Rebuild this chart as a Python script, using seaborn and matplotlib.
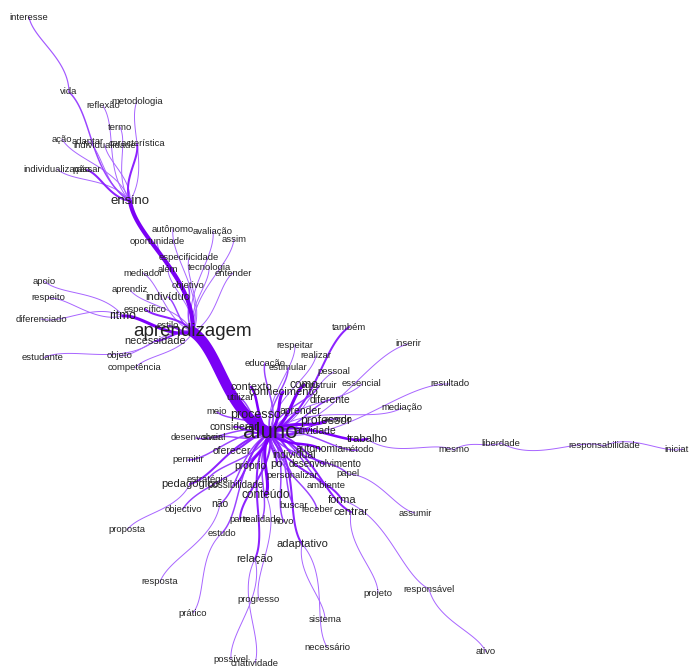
## word network (similarity tree) around "aluno"
import numpy as np
import pandas as pd
import seaborn as sns
import matplotlib.pyplot as plt

sns.set_style("white")
plt.rcParams['font.family'] = ['Liberation Sans', 'DejaVu Sans']

# nodes: word, position (px of the original layout), parent word, edge weight, font size
words = ["aluno", "aprendizagem", "ensino",
         "vida", "interesse", "reflexão", "metodologia", "termo", "ação", "adaptar",
         "individualidade", "característica", "individualização", "passar",
         "autônomo", "avaliação", "oportunidade", "assim", "especificidade", "tecnologia",
         "além", "mediador", "entender", "objetivo", "aprendiz", "indivíduo", "específico",
         "ritmo", "apoio", "respeito", "diferenciado", "estilo", "necessidade", "estudante",
         "objeto", "competência",
         "também", "respeitar", "inserir", "realizar", "educação", "estimular", "pessoal",
         "essencial", "resultado", "contexto", "como", "construir", "conhecimento", "utilizar",
         "diferente", "mediação", "meio", "processo", "aprender", "professor", "acordo",
         "considerar", "atividade", "trabalho", "mesmo", "liberdade", "responsabilidade",
         "iniciativa", "desenvolver", "social", "autonomia", "método", "oferecer", "individual",
         "permitir", "próprio", "po", "desenvolvimento", "papel", "assumir", "personalizar",
         "estratégia", "pedagógico", "proposta", "possibilidade", "ambiente", "conteúdo",
         "progresso", "forma", "responsável", "ativo", "objectivo", "não", "buscar", "receber",
         "centrar", "projeto", "parte", "realidade", "novo", "estudo", "resposta", "prático",
         "adaptativo", "sistema", "necessário", "relação", "possível", "criatividade"]

x = [270, 193, 130,
     69, 29, 103, 137, 120, 62, 88,
     105, 137, 57, 87,
     173, 213, 157, 234, 189, 209,
     168, 143, 233, 188, 130, 168, 145,
     123, 44, 48, 41, 168, 155, 43,
     120, 135,
     349, 295, 408, 316, 265, 288, 334,
     362, 450, 251, 304, 319, 283, 240,
     330, 402, 217, 256, 300, 326, 338,
     234, 315, 367, 454, 501, 604,
     683, 196, 214, 320, 358, 232, 294,
     188, 250, 277, 325, 348, 415, 292,
     208, 190, 127, 235, 326, 266,
     259, 342, 429, 486, 183, 220, 294, 317,
     351, 378, 240, 262, 284, 222, 160, 193,
     302, 325, 327, 255, 231, 255]

y = [433, 332, 201,
     92, 17, 106, 101, 127, 139, 141,
     145, 144, 169, 170,
     229, 231, 241, 239, 258, 267,
     270, 273, 273, 286, 290, 297, 309,
     316, 281, 298, 319, 326, 341, 358,
     356, 368,
     327, 345, 344, 356, 363, 368, 372,
     384, 384, 387, 385, 386, 392, 398,
     400, 408, 412, 415, 411, 421, 419,
     427, 431, 439, 450, 443, 446,
     449, 438, 438, 449, 450, 451, 455,
     460, 466, 464, 464, 474, 513, 476,
     479, 484, 530, 485, 486, 495,
     600, 500, 589, 652, 509, 504, 505, 509,
     512, 593, 519, 519, 522, 533, 582, 613,
     544, 620, 647, 559, 659, 663]

parents = [None, "aluno", "aprendizagem"] + ["ensino", "vida"] + ["ensino"] * 9 \
    + ["aprendizagem"] * 14 + ["ritmo"] * 3 + ["aprendizagem"] * 2 + ["necessidade"] \
    + ["aprendizagem"] * 2 \
    + ["aluno"] * 24 + ["trabalho", "mesmo", "liberdade", "responsabilidade"] \
    + ["aluno"] * 11 + ["papel", "aluno", "aluno", "aluno", "pedagógico", "aluno", "aluno",
                        "aluno", "conteúdo", "aluno", "forma", "responsável", "aluno", "aluno",
                        "aluno", "aluno", "aluno", "centrar", "aluno", "aluno", "aluno", "aluno",
                        "não", "estudo", "aluno", "adaptativo", "adaptativo", "aluno",
                        "relação", "relação"]

weights = [0, 10, 4,
           1.5, 1.2, 1, 1, 1, 1, 1,
           1, 2, 1, 2,
           1, 1, 1, 1, 1, 1,
           1, 1, 1, 1.5, 1, 1.5, 2,
           3, 1, 1, 1, 2, 2, 1,
           1, 1,
           2, 1, 1, 1, 1.5, 1.5, 1,
           1, 1, 2.5, 3, 1.5, 3, 1.5,
           1.5, 1, 1.5, 3, 2, 3, 1.5,
           2, 2, 2.5, 1, 1, 1,
           1, 1.5, 1.5, 2.5, 1.5, 2, 2,
           1.5, 2.5, 2, 2, 1.5, 1, 1.5,
           1.5, 2, 1, 2, 1.5, 3,
           1, 2, 1, 1, 1.5, 1.5, 1.5, 1.5,
           2, 1, 2, 1.5, 1.5, 1.5, 1, 1,
           2, 1, 1, 2, 1, 1]

fsizes = [16, 13.5, 9.5,
          6.8, 6.8, 6.8, 6.8, 6.8, 6.8, 6.8,
          6.8, 6.8, 6.8, 6.8,
          6.8, 6.8, 6.8, 6.8, 6.8, 6.8,
          6.8, 6.8, 6.8, 6.8, 6.8, 8, 6.8,
          8.7, 6.8, 6.8, 6.8, 6.8, 7.8, 6.8,
          6.8, 6.8,
          6.8, 6.8, 6.8, 6.8, 6.8, 6.8, 6.8,
          6.8, 6.8, 7.8, 8.5, 6.8, 8, 6.8,
          7.5, 6.8, 6.8, 9, 7.5, 8.7, 6.8,
          7.5, 7.5, 8.2, 6.8, 6.8, 6.8,
          6.8, 6.8, 6.8, 7.5, 6.8, 7.5, 7.5,
          6.8, 7.5, 8, 7, 6.8, 6.8, 6.8,
          6.8, 8, 6.8, 7, 6.8, 8.5,
          6.8, 8, 6.8, 6.8, 6.8, 7.5, 6.8, 6.8,
          8, 6.8, 6.8, 6.8, 6.8, 6.8, 6.8, 6.8,
          8, 6.8, 6.8, 8, 6.8, 6.8]

# build curved edges (cubic bezier between parent and child)
pos = {w: np.array([a, b], dtype=float) for w, a, b in zip(words, x, y)}
rows = []
t = np.linspace(0, 1, 50)[:, None]
for i, (w, par, wt) in enumerate(zip(words, parents, weights)):
    if par is None:
        continue
    p0, p3 = pos[par], pos[w]
    d = p3 - p0
    perp = np.array([-d[1], d[0]])
    sgn = 1 if i % 2 == 0 else -1
    p1 = p0 + 0.35 * d + 0.18 * sgn * perp
    p2 = p0 + 0.75 * d - 0.08 * sgn * perp
    pts = (1 - t) ** 3 * p0 + 3 * (1 - t) ** 2 * t * p1 + 3 * (1 - t) * t ** 2 * p2 + t ** 3 * p3
    for px, py in pts:
        rows.append((w, px, py, wt))
edges = pd.DataFrame(rows, columns=["edge", "x", "y", "w"])

fig = plt.figure(figsize=(6.89, 6.67), dpi=100)
ax = fig.add_axes([0, 0, 1, 1])
purples = sns.blend_palette(["#a865ff", "#7f00ff", "#7a00f5"], as_cmap=True)
sns.lineplot(data=edges, x="x", y="y", units="edge", estimator=None, sort=False,
             size="w", sizes=(0.7, 7.5), hue="w", palette=purples, hue_norm=(1, 4),
             legend=False, ax=ax)

for w, a, b, fs in zip(words, x, y, fsizes):
    ax.text(a, b, w, ha="center", va="center", fontsize=fs, color="#222222", zorder=5)

ax.set_xlim(0, 689)
ax.set_ylim(667, 0)
ax.axis("off")
plt.savefig("out.png", dpi=100)
